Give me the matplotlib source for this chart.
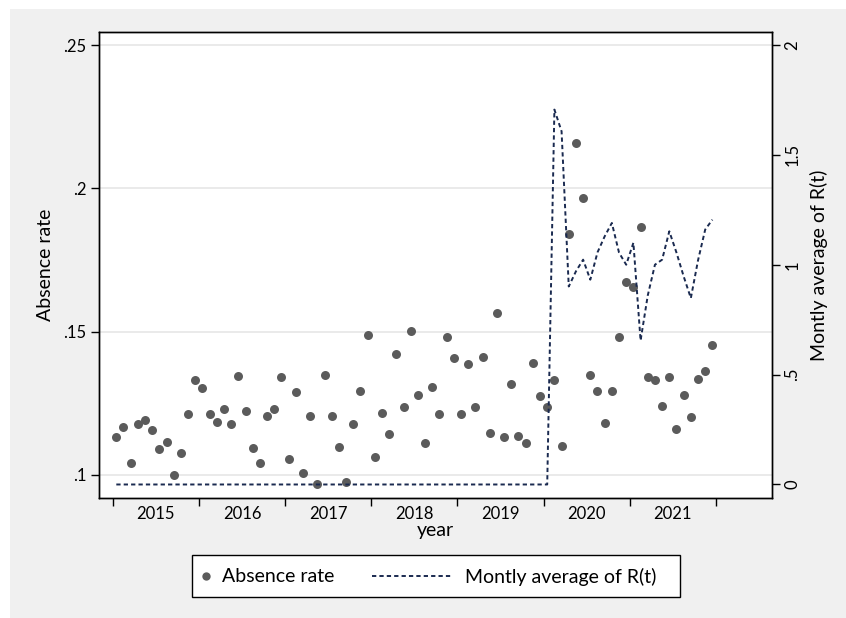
import matplotlib
matplotlib.use("Agg")
import matplotlib.pyplot as plt
from matplotlib.patches import Rectangle
from matplotlib.lines import Line2D
import numpy as np

plt.rcParams['font.family'] = ['Lato', 'DejaVu Sans']

# Monthly data, Jan 2015 .. Dec 2021
years = [2015, 2016, 2017, 2018, 2019, 2020, 2021]
year_labels = ["2015", "2016", "2017", "2018", "2019", "2020", "2021"]

absence_rate = [
    0.1134, 0.1167, 0.1040, 0.1178, 0.1193, 0.1156, 0.1089, 0.1115, 0.1001, 0.1078, 0.1212, 0.1331,
    0.1304, 0.1212, 0.1186, 0.1230, 0.1178, 0.1345, 0.1223, 0.1093, 0.1040, 0.1205, 0.1230, 0.1341,
    0.1055, 0.1289, 0.1008, 0.1205, 0.0967, 0.1348, 0.1205, 0.1096, 0.0975, 0.1178, 0.1293, 0.1490,
    0.1064, 0.1215, 0.1144, 0.1422, 0.1237, 0.1504, 0.1278, 0.1111, 0.1307, 0.1212, 0.1483, 0.1408,
    0.1212, 0.1386, 0.1237, 0.1411, 0.1148, 0.1564, 0.1131, 0.1316, 0.1136, 0.1111, 0.1389, 0.1275,
    0.1237, 0.1331, 0.1101, 0.1842, 0.2157, 0.1965, 0.1348, 0.1293, 0.1181, 0.1293, 0.1483, 0.1672,
    0.1655, 0.1864, 0.1341, 0.1330, 0.1241, 0.1341, 0.1159, 0.1278, 0.1201, 0.1334, 0.1363, 0.1452,
]

rt_zero_months = 61
rt_2020_2021 = [
    1.706, 1.607, 0.901, 0.970, 1.023, 0.932, 1.056, 1.129, 1.190, 1.055, 1.000,
    1.100, 0.655, 0.860, 1.000, 1.023, 1.152, 1.055, 0.947, 0.848, 1.020, 1.160, 1.205,
]
rt_monthly = [0.0] * rt_zero_months + rt_2020_2021

legend_labels = ["Absence rate", "Montly average of R(t)"]

months = np.arange(len(absence_rate))  # months since Jan 2015

W, H = 846, 618
fig = plt.figure(figsize=(W / 100, H / 100), dpi=100)
fig.patch.set_facecolor("white")
fig.patches.append(Rectangle((10 / W, 0), 1, 1 - 9 / H, transform=fig.transFigure,
                             facecolor="#f0f0f0", edgecolor="none", zorder=-10))

ax = fig.add_axes([99 / W, 1 - 498 / H, (772 - 99) / W, (498 - 32) / H])
ax.set_facecolor("white")
ax2 = ax.twinx()

dot_color = "#5b5b5b"
line_color = "#1a2a50"
dash = (0, (2.2, 1.6))

ax.scatter(months, absence_rate, s=42, color=dot_color, zorder=3, linewidths=0)
ax2.plot(months, rt_monthly, color=line_color, linestyle=dash, linewidth=1.4, zorder=4)

ax.set_xlim(-2.41, 91.3)
ax.set_ylim(0.09196, 0.25455)
ax2.set_ylim(-0.0615, 2.059)

ax.set_yticks([0.1, 0.15, 0.2, 0.25])
ax.set_yticklabels([".1", ".15", ".2", ".25"])
ax.yaxis.grid(True, color="#e6e6e6", linewidth=1.2)
ax.set_axisbelow(True)

ax2.set_yticks([0, 0.5, 1, 1.5, 2])
ax2.set_yticklabels(["0", ".5", "1", "1.5", "2"], rotation=90, va="center")

bounds = [-0.5 + 12 * i for i in range(len(years) + 1)]
ax.set_xticks(bounds)
ax.set_xticklabels([""] * len(bounds))
ax.set_xticks([5.5 + 12 * i for i in range(len(years))], minor=True)
ax.set_xticklabels(year_labels, minor=True)
ax.tick_params(axis="x", which="minor", length=0, pad=6, labelsize=12)
ax.tick_params(axis="x", which="major", length=6, width=1, direction="out")
ax.tick_params(axis="y", length=6, width=1, labelsize=12, pad=3)
ax2.tick_params(axis="y", length=6, width=1, labelsize=12, pad=3)

for a in (ax, ax2):
    for sp in a.spines.values():
        sp.set_color("black")
        sp.set_linewidth(1.0)

ax.set_xlabel("year", fontsize=14, labelpad=0)
ax.set_ylabel("Absence rate", fontsize=14, labelpad=7)
ax2.set_ylabel(legend_labels[1], fontsize=14, labelpad=7, rotation=90)

# Legend (Stata-style layout)
def fx(px):
    return px / W

def fy(py):
    return 1 - py / H

fig.patches.append(Rectangle((fx(192), fy(597)), fx(680) - fx(192), fy(555) - fy(597),
                             transform=fig.transFigure, facecolor="white",
                             edgecolor="black", linewidth=1.0, zorder=5))
fig.lines.append(Line2D([fx(206)], [fy(576)], transform=fig.transFigure, marker="o",
                        linestyle="none", color=dot_color, markersize=6.0,
                        markeredgewidth=0, zorder=6))
fig.text(fx(222), fy(577), legend_labels[0], fontsize=14, va="center", ha="left", zorder=6)
fig.lines.append(Line2D([fx(372), fx(452)], [fy(576), fy(576)], transform=fig.transFigure,
                        color=line_color, linestyle=dash, linewidth=1.4, zorder=6))
fig.text(fx(465), fy(577), legend_labels[1], fontsize=14, va="center", ha="left", zorder=6)

fig.savefig("out.png", dpi=100, facecolor=fig.get_facecolor())
